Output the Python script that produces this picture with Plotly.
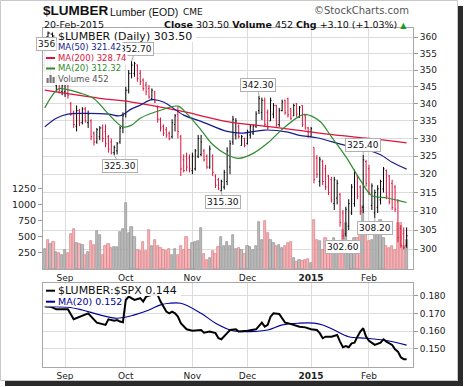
import math
import plotly.graph_objects as go

# ---------------- data ----------------
# trading-day index 0 = 21-Aug-2014 ... 125 = 20-Feb-2015
month_tick_idx = [7, 28, 51, 70, 92, 112]
month_tick_txt = ["Sep", "Oct", "Nov", "Dec", "<b>2015</b>", "Feb"]

opens = [351.5,353.0,348.5,350.5,345.5,347.5,343.5,343.5,346.0,340.0,
         337.5,333.5,338.0,334.5,338.5,334.5,335.0,331.5,329.0,330.5,
         333.0,332.0,330.5,329.0,326.0,326.5,329.0,333.0,337.0,344.0,
         349.0,349.0,351.5,349.0,347.0,345.5,344.5,341.5,343.5,339.0,
         335.5,333.5,332.5,331.5,330.5,334.0,337.0,330.5,324.0,325.0,
         324.5,321.0,321.5,325.0,325.5,326.5,325.0,322.0,325.0,319.5,
         318.5,315.5,316.5,318.0,322.0,329.0,331.0,333.5,328.0,330.0,
         328.5,331.0,331.5,333.5,338.0,337.5,341.0,337.5,335.0,337.0,
         339.5,334.0,338.0,341.0,341.5,338.5,336.5,340.0,336.0,339.5,
         336.5,333.0,330.5,327.5,324.5,318.0,323.5,321.5,319.5,318.5,
         312.0,313.5,314.5,309.5,304.0,306.0,309.5,312.0,319.5,316.5,
         311.0,323.5,321.5,311.5,309.5,311.0,313.0,316.0,321.0,319.5,
         317.5,316.5,312.5,305.5,304.0,301.0]
highs = [356.0,354.0,351.5,351.0,348.5,348.0,346.5,346.5,346.0,340.5,
         338.0,339.5,338.5,339.0,339.0,338.0,335.5,332.0,333.0,333.5,
         334.0,334.0,331.0,330.0,328.0,329.0,333.5,337.5,345.0,350.0,
         352.7,352.5,351.7,350.0,347.5,346.5,345.5,344.5,343.8,339.5,
         336.0,334.0,333.3,332.0,335.5,337.0,339.0,331.0,325.5,326.0,
         325.5,326.0,327.0,331.0,331.0,327.0,325.5,328.0,325.5,320.0,
         319.0,318.5,321.2,327.5,329.5,336.5,335.8,334.0,331.0,330.2,
         332.5,334.0,334.0,337.8,342.3,341.8,341.8,338.3,341.8,340.2,
         339.7,338.8,341.2,341.2,341.8,338.8,340.0,340.2,339.3,339.6,
         336.8,333.3,333.3,327.5,325.3,324.8,324.0,322.6,319.8,319.3,
         319.3,318.5,314.9,310.3,311.2,313.2,317.3,321.3,319.8,317.0,
         325.4,324.0,322.6,317.5,315.8,317.0,318.5,322.0,321.3,319.8,
         318.5,317.0,313.2,306.3,305.7,305.7]
lows = [349.5,348.0,346.5,345.5,343.5,343.0,342.5,342.0,341.5,336.5,
        333.0,332.0,333.5,334.0,334.5,333.0,329.5,328.0,328.5,329.5,
        329.0,327.5,326.0,325.5,325.3,325.5,328.5,331.5,336.0,343.0,
        347.5,348.0,346.5,345.5,343.8,342.5,341.5,341.0,340.2,334.5,
        332.0,330.7,330.2,329.5,330.0,332.0,330.0,319.5,320.5,320.8,
        320.5,320.0,321.0,324.5,325.0,323.5,321.5,321.5,319.5,316.2,
        315.7,315.3,315.8,317.0,320.0,328.2,329.7,330.0,328.0,327.5,
        328.3,330.0,331.0,333.0,337.0,335.3,333.3,332.5,335.0,335.8,
        333.3,333.3,337.8,336.8,336.0,335.3,336.4,336.2,336.0,333.3,
        332.5,330.2,330.5,317.5,319.0,316.6,317.0,315.7,314.3,312.3,
        310.3,311.8,305.9,302.6,303.3,305.0,309.0,311.2,313.2,309.0,
        309.5,316.6,314.3,310.3,308.2,309.5,311.8,315.0,313.2,311.8,
        310.3,309.8,301.8,300.4,300.0,300.4]
closes = [353.5,349.0,350.5,346.5,347.5,344.0,345.5,346.0,342.5,337.0,
          334.0,338.0,334.5,338.5,335.0,337.0,330.5,329.0,332.5,333.0,
          330.0,328.5,327.0,326.0,327.5,328.5,333.0,336.5,344.0,349.0,
          351.5,352.0,347.5,346.5,344.5,343.5,342.0,344.0,340.5,335.5,
          333.0,331.5,331.0,330.0,334.5,336.5,332.0,321.5,321.0,322.0,
          321.5,325.0,326.5,330.0,329.0,324.0,322.0,327.0,320.5,317.0,
          316.0,318.0,320.5,326.5,328.5,335.5,335.0,330.5,330.5,328.0,
          332.0,333.5,333.5,337.0,341.5,341.0,334.0,333.0,341.0,339.5,
          334.0,338.0,340.5,337.5,336.8,335.8,339.5,337.0,339.0,334.0,
          333.0,330.8,332.8,318.5,320.0,324.0,318.0,316.5,315.0,313.0,
          318.5,317.5,307.0,303.5,310.5,312.0,316.5,320.5,314.0,310.0,
          324.0,317.5,315.0,316.8,315.0,316.0,318.0,321.5,314.0,312.5,
          311.0,310.5,303.0,301.0,300.4,303.5]
volume = [310,450,390,420,270,250,220,300,250,545,
          630,410,390,370,220,260,430,380,590,530,
          220,360,390,330,340,340,580,630,1030,560,
          650,500,290,276,416,286,600,353,457,353,
          327,300,276,313,224,313,224,364,302,499,
          291,406,416,432,637,240,146,172,276,240,
          343,499,364,416,353,535,313,327,302,240,
          364,343,291,353,727,457,743,561,457,406,
          364,380,327,353,406,416,172,104,146,120,
          146,156,94,768,457,431,302,483,406,380,
          483,406,432,613,716,353,432,483,480,540,
          985,716,432,457,664,561,758,480,353,327,
          364,302,716,716,353,452]

ma50_idx = [0,4,8,14,22,26,30,33,37,41,48,54,63,68,76,84,88,94,104,110,116,120,125]
ma50_val = [333.3,335.8,337.0,337.2,337.0,336.5,338.5,339.6,341.2,340.5,336.7,334.9,
            332.0,331.5,332.4,331.8,330.9,330.2,328.0,327.1,325.4,323.3,321.42]
ma200_idx = [0,19,30,48,63,75,87,100,112,125]
ma200_val = [344.0,341.6,340.5,337.7,334.8,333.6,332.4,331.0,330.0,328.74]
ma20_idx = [0,3,5,7,12,17,22,27,30,33,40,46,49,54,58,63,67,72,77,82,88,90,95,99,104,109,113,118,122,125]
ma20_val = [338.8,342.9,344.5,344.3,343.2,341.5,337.0,333.3,333.8,335.8,338.1,339.3,337.2,332.4,
            328.3,325.4,324.4,325.8,328.7,332.6,336.4,336.9,334.9,330.5,324.9,318.4,314.2,313.6,312.9,312.32]

ratio_idx = [0,2,4,8,10,12,15,18,21,22,24,25,26,27,28,29,31,33,34,35,37,39,40,42,43,44,45,46,47,
             49,51,54,55,57,59,60,61,63,64,66,67,70,71,73,75,76,77,78,79,81,82,83,84,86,88,90,92,
             94,95,96,97,99,101,102,103,104,105,106,107,108,109,110,111,112,113,114,116,117,118,
             120,121,122,123,124,125]
ratio_val = [0.1742,0.1739,0.1724,0.1724,0.1667,0.1682,0.1701,0.1648,0.1635,0.1667,0.1659,0.1663,
             0.1654,0.1650,0.1777,0.1796,0.1777,0.1787,0.1768,0.1796,0.1806,0.1806,0.1768,0.1711,
             0.1701,0.1711,0.1701,0.1682,0.1645,0.1610,0.1602,0.1606,0.1591,0.1597,0.1588,0.1559,
             0.1553,0.1588,0.1606,0.1610,0.1597,0.1602,0.1606,0.1610,0.1648,0.1625,0.1635,0.1682,
             0.1701,0.1697,0.1673,0.1648,0.1645,0.1635,0.1625,0.1621,0.1610,0.1606,0.1588,0.1559,
             0.1568,0.1568,0.1578,0.1540,0.1508,0.1515,0.1508,0.1530,0.1534,0.1568,0.1597,0.1616,
             0.1568,0.1545,0.1534,0.1521,0.1534,0.1553,0.1540,0.1521,0.1496,0.1483,0.1451,0.1440,0.1440]
rma_idx = [0,8,13,19,25,31,36,40,43,47,54,59,65,71,77,82,88,93,96,100,105,111,117,125]
rma_val = [0.1739,0.1736,0.1720,0.1692,0.1673,0.1692,0.1720,0.1749,0.1758,0.1758,0.1701,0.1645,
           0.1602,0.1597,0.1606,0.1635,0.1645,0.1645,0.1635,0.1606,0.1568,0.1559,0.1549,0.1520]

price_ticks = [300,305,310,315,320,325,330,335,340,345,350,355,360]
vol_ticks = [250,500,750,1000,1250]
ratio_ticks = [0.150,0.160,0.170,0.180]

callout_idx = [30, 24, 74, 61, 110, 114, 103]
callout_price = [352.7, 325.3, 342.3, 315.3, 325.4, 308.2, 302.6]
callout_text = ["352.70", "325.30", "342.30", "315.30", "325.40", "308.20", "302.60"]

legend_main = ["$LUMBER (Daily) 303.50", "MA(50) 321.42", "MA(200) 328.74", "MA(20) 312.32", "Volume 452"]
legend_low = ["$LUMBER:$SPX 0.144", "MA(20) 0.152"]

# ---------------- figure ----------------
W, H = 464, 387
def X(p): return p / W
def Y(p): return 1 - p / H

RED = "#dc143c"
NAVY = "#1a1a8c"
GREEN = "#2e8b2e"
FONT = "DejaVu Sans"

idx = list(range(len(closes)))
up = [c >= o for o, c in zip(opens, closes)]
vol_fill = ["#bcbcbc" if u else "#f2b8bc" for u in up]
vol_line = ["#909090" if u else "#dc7880" for u in up]

fig = go.Figure()
fig.add_trace(go.Bar(x=idx, y=volume, width=0.78, xaxis="x", yaxis="y",
                     marker=dict(color=vol_fill, line=dict(color=vol_line, width=0.7)),
                     hoverinfo="skip", showlegend=False))
fig.add_trace(go.Scatter(x=ma200_idx, y=ma200_val, mode="lines", xaxis="x", yaxis="y2",
                         line=dict(color=RED, width=1.2, shape="spline"), hoverinfo="skip", showlegend=False))
fig.add_trace(go.Scatter(x=ma50_idx, y=ma50_val, mode="lines", xaxis="x", yaxis="y2",
                         line=dict(color=NAVY, width=1.2, shape="spline"), hoverinfo="skip", showlegend=False))
fig.add_trace(go.Scatter(x=ma20_idx, y=ma20_val, mode="lines", xaxis="x", yaxis="y2",
                         line=dict(color=GREEN, width=1.2, shape="spline"), hoverinfo="skip", showlegend=False))
fig.add_trace(go.Ohlc(x=idx, open=opens, high=highs, low=lows, close=closes, xaxis="x", yaxis="y2",
                      increasing=dict(line=dict(color="black", width=1)),
                      decreasing=dict(line=dict(color=RED, width=1)),
                      tickwidth=0.35, hoverinfo="skip", showlegend=False))
fig.add_trace(go.Scatter(x=rma_idx, y=rma_val, mode="lines", xaxis="x2", yaxis="y3",
                         line=dict(color="#000099", width=1.1, shape="spline"), hoverinfo="skip", showlegend=False))
fig.add_trace(go.Scatter(x=ratio_idx, y=ratio_val, mode="lines", xaxis="x2", yaxis="y3",
                         line=dict(color="black", width=2), hoverinfo="skip", showlegend=False))

xr = [-0.6, 127.2]
axis_common = dict(showline=True, linecolor="#a8a8a8", mirror=True, gridcolor="#dcdcdc",
                   tickfont=dict(family=FONT, size=9, color="#222"))
fig.update_layout(
    width=W, height=H, margin=dict(l=0, r=0, t=0, b=0), autosize=False,
    paper_bgcolor="white", plot_bgcolor="white", showlegend=False,
    bargap=0,
    xaxis=dict(domain=[X(43), X(413)], range=xr, anchor="y", tickvals=month_tick_idx,
               ticktext=month_tick_txt, ticks="", showgrid=True, zeroline=False,
               rangeslider=dict(visible=False), **axis_common),
    yaxis=dict(domain=[Y(269), Y(28)], range=[0, 3754], side="left", anchor="x",
               tickvals=vol_ticks, ticks="outside", ticklen=4, tickcolor="#999",
               showgrid=False, zeroline=False, showline=False,
               tickfont=dict(family=FONT, size=9.5, color="#222")),
    yaxis2=dict(overlaying="y", side="right", anchor="x", type="log",
                range=[2.46976, 2.55977], tickvals=price_ticks,
                ticktext=[str(t) for t in price_ticks], ticks="outside", ticklen=4,
                tickcolor="#999", showgrid=True, zeroline=False, **axis_common),
    xaxis2=dict(domain=[X(43), X(413)], range=xr, anchor="y3", tickvals=month_tick_idx,
                ticktext=month_tick_txt, ticks="", showgrid=True, zeroline=False, **axis_common),
    yaxis3=dict(domain=[Y(366.7), Y(283.3)], range=[0.1397, 0.1872], side="right", anchor="x2",
                tickvals=ratio_ticks, ticktext=["%.3f" % t for t in ratio_ticks],
                ticks="outside", ticklen=4, tickcolor="#999", zeroline=False, **axis_common),
)

shapes = []
# outer frame and shadow
shapes.append(dict(type="rect", xref="paper", yref="paper", x0=X(0.5), x1=X(457.5), y0=Y(380.5), y1=Y(0.5),
                   line=dict(color="#c8c8c8", width=1), fillcolor="rgba(0,0,0,0)", layer="above"))
shapes.append(dict(type="rect", xref="paper", yref="paper", x0=X(458), x1=X(463), y0=Y(386), y1=Y(6),
                   line=dict(width=0), fillcolor="#2a2a2a", layer="above"))
shapes.append(dict(type="rect", xref="paper", yref="paper", x0=X(5), x1=X(463), y0=Y(386), y1=Y(381),
                   line=dict(width=0), fillcolor="#2a2a2a", layer="above"))
# legend backgrounds
for (x0, x1, y0, y1) in [(43.5, 196, 28.5, 42), (43.5, 122, 42, 85), (43.5, 181, 283.8, 296), (43.5, 119, 296, 306.5)]:
    shapes.append(dict(type="rect", xref="paper", yref="paper", x0=X(x0), x1=X(x1), y0=Y(y1), y1=Y(y0),
                       line=dict(width=0), fillcolor="rgba(255,255,255,0.92)", layer="above"))
# legend icons
row_y = [36.5, 47.5, 58, 68.5, 79]
for col, yy in zip([NAVY, RED, GREEN], row_y[1:4]):
    shapes.append(dict(type="line", xref="paper", yref="paper", x0=X(46), x1=X(55), y0=Y(yy), y1=Y(yy),
                       line=dict(color=col, width=2), layer="above"))
for col, yy in zip(["black", "#000099"], [290.7, 301.7]):
    shapes.append(dict(type="line", xref="paper", yref="paper", x0=X(46), x1=X(55), y0=Y(yy), y1=Y(yy),
                       line=dict(color=col, width=2), layer="above"))
# OHLC icon
for bx, t, b, ol, cl in [(48, 31.5, 40, 37, 33), (52.5, 32.5, 39, 34, 36)]:
    shapes.append(dict(type="line", xref="paper", yref="paper", x0=X(bx), x1=X(bx), y0=Y(b), y1=Y(t),
                       line=dict(color="black", width=1), layer="above"))
    shapes.append(dict(type="line", xref="paper", yref="paper", x0=X(bx - 2), x1=X(bx), y0=Y(ol), y1=Y(ol),
                       line=dict(color="black", width=1), layer="above"))
    shapes.append(dict(type="line", xref="paper", yref="paper", x0=X(bx), x1=X(bx + 2), y0=Y(cl), y1=Y(cl),
                       line=dict(color="black", width=1), layer="above"))
# volume icon
for bx, top in [(46.5, 78), (49.5, 75), (52.5, 77)]:
    shapes.append(dict(type="rect", xref="paper", yref="paper", x0=X(bx), x1=X(bx + 2.2), y0=Y(83), y1=Y(top),
                       line=dict(width=0), fillcolor="#777", layer="above"))
fig.update_layout(shapes=shapes)

ann = []
# price callouts first (legend is drawn over them)
offsets = [(4, -12), (6, 11), (-1, -11), (2, 11), (0, -10), (0, 10), (0, 8)]
for i_, p_, t_, (ox, oy) in zip(callout_idx, callout_price, callout_text, offsets):
    ann.append(dict(x=i_, y=math.log10(p_), xref="x", yref="y2",
                    text=t_, showarrow=True, arrowhead=0, arrowwidth=1, arrowcolor="#aaa",
                    ax=ox, ay=oy, standoff=0,
                    font=dict(family=FONT, size=9, color="#111"), bgcolor="white",
                    bordercolor="#b0b0b0", borderwidth=1, borderpad=1))

def txt(x, y, s, size=9, color="#222", xanchor="left", family=FONT, **kw):
    ann.append(dict(x=X(x), y=Y(y), xref="paper", yref="paper", text=s, showarrow=False,
                    xanchor=xanchor, yanchor="middle", font=dict(family=family, size=size, color=color), **kw))

# header
txt(41, 10.5, "<b>$LUMBER</b>", size=13.5, color="#111", family="Liberation Sans, Arial")
txt(108, 12, "Lumber (EOD)", size=10.5, color="#111", family="Liberation Sans, Arial")
txt(181, 12, "CME", size=9, color="#111")
txt(411, 11, "\u00a9StockCharts.com", size=10, color="#555", xanchor="right")
txt(42, 24, "20-Feb-2015", size=9.5, color="#111")
txt(409, 24, "<b>Close</b> 303.50\u00a0<b>Volume</b> 452\u00a0<b>Chg</b> +3.10 (+1.03%) "
    "<span style='color:#1a9a1a;font-size:8px'>\u25b2</span>", size=9.5, color="#111", xanchor="right")

# "356" tag at the far left (clipped label of the earliest high)
ann.append(dict(x=X(36), y=Y(37), xref="paper", yref="paper", text="356", showarrow=False,
                font=dict(family=FONT, size=9, color="#111"), bgcolor="white",
                bordercolor="#b0b0b0", borderwidth=1, borderpad=1))

# main legend
txt(56, row_y[0], legend_main[0], size=11, color="#111")
txt(56, row_y[1], legend_main[1], size=8.5, color=NAVY, bgcolor="white")
txt(56, row_y[2], legend_main[2], size=8.5, color=RED, bgcolor="white")
txt(56, row_y[3], legend_main[3], size=8.5, color=GREEN, bgcolor="white")
txt(56, row_y[4], legend_main[4], size=8.5, color="#555")
# lower legend
txt(56, 290.7, legend_low[0], size=11, color="#111")
txt(56, 301.7, legend_low[1], size=9.5, color="#000099")

fig.update_layout(annotations=ann)

fig.write_html("out.html", config={"displayModeBar": False},
               post_script="document.body.style.margin='0';document.body.style.overflow='hidden';")
